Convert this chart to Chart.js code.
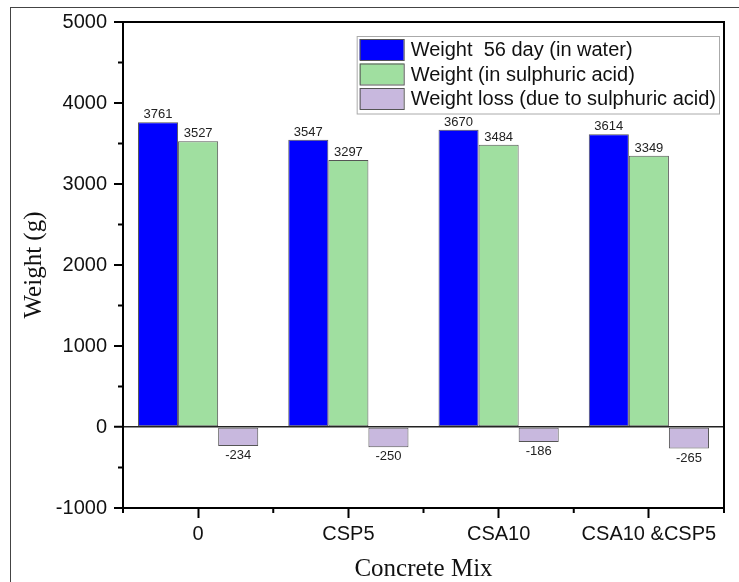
<!DOCTYPE html>
<html>
<head>
<meta charset="utf-8">
<script src="https://cdn.jsdelivr.net/npm/chart.js@4/dist/chart.umd.min.js"></script>
<style>
  html, body { margin: 0; padding: 0; background: #fff; }
  #wrap { position: relative; width: 739px; height: 582px; }
  #frame { position: absolute; left: 10px; top: 7px; right: 0; bottom: 0;
           border-left: 1.5px solid #444; border-top: 1.5px solid #444; pointer-events: none; }
  canvas { position: absolute; left: 0; top: 0; }
</style>
</head>
<body>
<div id="wrap">
  <canvas id="chart" width="739" height="582"></canvas>
  <div id="frame"></div>
</div>
<script>
// Values
const mixes = ["0", "CSP5", "CSA10", "CSA10 &CSP5"];
const weightWater = [3761, 3547, 3670, 3614];
const weightAcid = [3527, 3297, 3484, 3349];
const weightLoss = [-234, -250, -186, -265];
const seriesNames = ["Weight  56 day (in water)", "Weight (in sulphuric acid)", "Weight loss (due to sulphuric acid)"];
const seriesColors = ["#0000FF", "#A0DFA0", "#C8B8DE"];
const yMin = -1000, yMax = 5000, yStep = 1000;

const SANS = "'Liberation Sans', Arial, sans-serif";
const SERIF = "'Liberation Serif', 'Times New Roman', serif";

// value labels on each bar
const valueLabels = {
  id: "valueLabels",
  afterDatasetsDraw(chart) {
    const ctx = chart.ctx;
    ctx.save();
    ctx.font = "13px " + SANS;
    ctx.fillStyle = "#222";
    ctx.textAlign = "center";
    chart.data.datasets.forEach((ds, i) => {
      chart.getDatasetMeta(i).data.forEach((bar, j) => {
        const v = ds.data[j];
        if (v >= 0) {
          ctx.textBaseline = "bottom";
          ctx.fillText(v, bar.x, bar.y - 1);
        } else {
          ctx.textBaseline = "top";
          ctx.fillText(v, bar.x, bar.y + 3);
        }
      });
    });
    ctx.restore();
  }
};

// plot frame, minor ticks and in-plot legend
const decorations = {
  id: "decorations",
  afterDraw(chart) {
    const ctx = chart.ctx;
    const a = chart.chartArea;
    const x = chart.scales.x, y = chart.scales.y;
    ctx.save();
    ctx.strokeStyle = "#000";
    ctx.lineWidth = 2;
    ctx.beginPath();
    ctx.moveTo(a.left, a.top);
    ctx.lineTo(a.right, a.top);
    ctx.lineTo(a.right, a.bottom);
    ctx.stroke();

    // minor ticks
    ctx.beginPath();
    for (let v = yMin + yStep / 2; v < yMax; v += yStep) {
      const py = y.getPixelForValue(v);
      ctx.moveTo(a.left - 5, py);
      ctx.lineTo(a.left, py);
    }
    for (let i = 0; i <= mixes.length; i++) {
      const px = x.getPixelForValue(i - 0.5);
      ctx.moveTo(px, a.bottom);
      ctx.lineTo(px, a.bottom + 5);
    }
    ctx.stroke();

    // legend
    ctx.font = "20px " + SANS;
    const textW = Math.max(...seriesNames.map(t => ctx.measureText(t).width));
    const boxW = 44, boxH = 21, rowH = 24.5;
    const w = 3 + boxW + 7 + textW + 3;
    const h = 3 + rowH * seriesNames.length + 1;
    const lx = a.right - 5 - w, ly = a.top + 14;
    ctx.fillStyle = "#fff";
    ctx.fillRect(lx, ly, w, h);
    ctx.strokeStyle = "#aaa";
    ctx.lineWidth = 1;
    ctx.strokeRect(lx + 0.5, ly + 0.5, w, h);
    ctx.textAlign = "left";
    ctx.textBaseline = "middle";
    seriesNames.forEach((name, i) => {
      const by = ly + 3 + i * rowH;
      ctx.fillStyle = seriesColors[i];
      ctx.fillRect(lx + 3, by, boxW, boxH);
      ctx.strokeStyle = "#555";
      ctx.strokeRect(lx + 3.5, by + 0.5, boxW, boxH);
      ctx.fillStyle = "#111";
      ctx.fillText(name, lx + 3 + boxW + 7, by + boxH / 2 + 1);
    });
    ctx.restore();
  }
};

const datasets = [weightWater, weightAcid, weightLoss].map((d, i) => ({
  label: seriesNames[i],
  data: d,
  backgroundColor: seriesColors[i],
  borderColor: "#555",
  borderWidth: 1,
  borderSkipped: false
}));

new Chart(document.getElementById("chart"), {
  type: "bar",
  data: { labels: mixes, datasets: datasets },
  options: {
    responsive: false,
    animation: false,
    events: [],
    categoryPercentage: 0.8,
    barPercentage: 1.0,
    layout: { padding: { left: 0, top: 22, right: 15, bottom: 0 } },
    plugins: {
      legend: { display: false },
      tooltip: { enabled: false }
    },
    scales: {
      x: {
        afterFit: s => { s.height = 74; },
        grid: {
          offset: false,
          drawOnChartArea: false,
          tickLength: 10,
          tickColor: "#000",
          tickWidth: 2
        },
        border: { color: "#000", width: 2 },
        ticks: { color: "#111", font: { family: SANS, size: 20 }, padding: 4, maxRotation: 0 },
        title: {
          display: true,
          text: "Concrete Mix",
          color: "#111",
          font: { family: SERIF, size: 25, lineHeight: 1 },
          padding: { top: 0, bottom: 0 }
        }
      },
      y: {
        min: yMin,
        max: yMax,
        afterFit: s => { s.width = 123; },
        grid: {
          drawOnChartArea: true,
          color: c => (c.tick && c.tick.value === 0 ? "#222" : "rgba(0,0,0,0)"),
          lineWidth: c => (c.tick && c.tick.value === 0 ? 1.5 : 0),
          tickLength: 9,
          tickColor: "#000",
          tickWidth: 2
        },
        border: { color: "#000", width: 2 },
        ticks: {
          stepSize: yStep,
          color: "#111",
          font: { family: SANS, size: 20 },
          padding: 7,
          callback: v => String(v)
        },
        title: {
          display: true,
          text: "Weight (g)",
          color: "#111",
          font: { family: SERIF, size: 25, lineHeight: 1 },
          padding: { top: 22, bottom: 0 }
        }
      }
    }
  },
  plugins: [valueLabels, decorations]
});
</script>
</body>
</html>
